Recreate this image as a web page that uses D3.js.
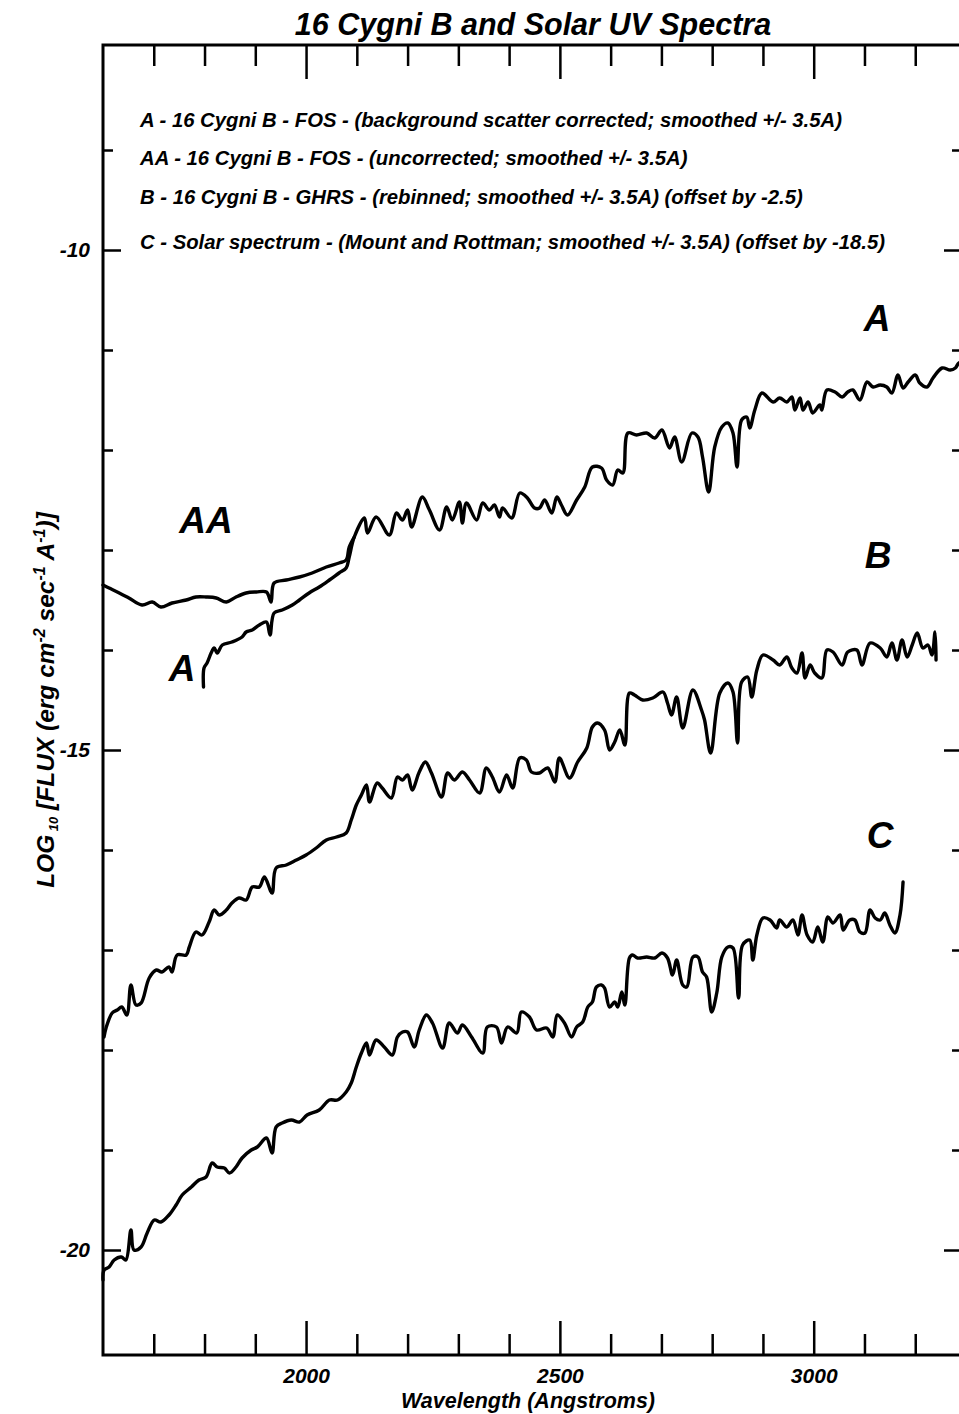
<!DOCTYPE html>
<html>
<head>
<meta charset="utf-8">
<script src="https://cdn.jsdelivr.net/npm/d3@7"></script>
<style>
  body { margin: 0; background: #fff; }
  svg text { font-family: "Liberation Sans", Arial, sans-serif; font-weight: bold; font-style: italic; fill: #000; }
  .spectrum { fill: none; stroke: #000; stroke-width: 3.4; stroke-linejoin: round; stroke-linecap: round; }
  .frame { fill: none; stroke: #000; stroke-width: 3; }
  .axis path { display: none; }
  .axis line { stroke: #000; stroke-width: 2.5; }
</style>
</head>
<body>
<div id="spectra-chart"></div>
<script>
// [wavelength (A), log10 flux]
const seriesAA = [[1600,-13.35],[1612,-13.38],[1632,-13.43],[1651,-13.48],[1677,-13.55],[1697,-13.52],[1714,-13.57],[1736,-13.53],[1764,-13.50],[1783,-13.47],[1803,-13.47],[1823,-13.48],[1843,-13.52],[1862,-13.47],[1882,-13.43],[1902,-13.42],[1922,-13.42],[1931,-13.52],[1937,-13.33],[1961,-13.30],[1987,-13.27],[2012,-13.23],[2040,-13.17],[2065,-13.13],[2079,-13.10],[2085,-12.97],[2095,-12.87]];

const seriesA = [[1798,-14.37],[1799,-14.18],[1805,-14.13],[1813,-14.03],[1819,-13.98],[1825,-14.03],[1835,-13.95],[1854,-13.92],[1874,-13.87],[1882,-13.82],[1894,-13.80],[1908,-13.75],[1922,-13.72],[1929,-13.85],[1937,-13.63],[1953,-13.60],[1973,-13.55],[1987,-13.50],[2006,-13.43],[2026,-13.37],[2046,-13.30],[2065,-13.23],[2079,-13.18],[2085,-13.07],[2095,-12.87],
  [2115,-12.68],[2121,-12.83],[2138,-12.67],[2164,-12.85],[2178,-12.63],[2190,-12.70],[2200,-12.60],[2208,-12.77],[2229,-12.47],[2243,-12.60],[2263,-12.80],[2277,-12.57],[2288,-12.70],[2302,-12.52],[2308,-12.73],[2316,-12.53],[2336,-12.70],[2348,-12.53],[2361,-12.60],[2371,-12.55],[2381,-12.67],[2387,-12.58],[2405,-12.68],[2421,-12.43],[2436,-12.48],[2450,-12.58],[2460,-12.58],[2470,-12.50],[2484,-12.63],[2494,-12.47],[2503,-12.55],[2515,-12.65],[2533,-12.50],[2549,-12.37],[2564,-12.17],[2582,-12.18],[2592,-12.30],[2604,-12.35],[2614,-12.20],[2624,-12.23],[2634,-11.83],[2651,-11.85],[2671,-11.83],[2687,-11.88],[2701,-11.80],[2716,-11.98],[2726,-11.87],[2740,-12.12],[2760,-11.83],[2772,-11.87],[2781,-12.07],[2793,-12.42],[2805,-11.97],[2819,-11.77],[2831,-11.73],[2841,-11.83],[2849,-12.17],[2858,-11.70],[2868,-11.67],[2874,-11.78],[2884,-11.60],[2898,-11.43],[2920,-11.52],[2933,-11.48],[2947,-11.52],[2957,-11.47],[2963,-11.60],[2973,-11.48],[2979,-11.60],[2989,-11.52],[2998,-11.63],[3012,-11.55],[3016,-11.60],[3026,-11.40],[3042,-11.42],[3056,-11.47],[3067,-11.42],[3077,-11.40],[3091,-11.50],[3105,-11.32],[3117,-11.37],[3131,-11.35],[3144,-11.37],[3154,-11.43],[3166,-11.25],[3176,-11.38],[3186,-11.32],[3200,-11.25],[3209,-11.33],[3223,-11.37],[3235,-11.28],[3253,-11.18],[3269,-11.20],[3279,-11.18],[3286,-11.13],[3300,-11.12]];

const seriesB = [[1602,-17.87],[1606,-17.78],[1618,-17.63],[1628,-17.60],[1637,-17.57],[1647,-17.65],[1655,-17.35],[1665,-17.55],[1675,-17.53],[1691,-17.28],[1705,-17.20],[1716,-17.22],[1730,-17.17],[1736,-17.22],[1746,-17.05],[1764,-17.05],[1770,-16.97],[1783,-16.82],[1795,-16.85],[1809,-16.72],[1819,-16.60],[1829,-16.65],[1843,-16.60],[1854,-16.53],[1868,-16.48],[1882,-16.50],[1894,-16.37],[1908,-16.37],[1918,-16.27],[1933,-16.43],[1941,-16.18],[1961,-16.15],[1981,-16.10],[2000,-16.05],[2020,-15.98],[2040,-15.90],[2060,-15.87],[2079,-15.83],[2089,-15.70],[2099,-15.55],[2109,-15.45],[2119,-15.35],[2125,-15.52],[2140,-15.33],[2150,-15.38],[2168,-15.48],[2180,-15.27],[2190,-15.30],[2200,-15.25],[2209,-15.40],[2223,-15.22],[2235,-15.12],[2247,-15.23],[2267,-15.47],[2279,-15.23],[2292,-15.30],[2308,-15.22],[2322,-15.30],[2342,-15.43],[2355,-15.18],[2367,-15.27],[2381,-15.42],[2395,-15.25],[2407,-15.38],[2421,-15.08],[2434,-15.10],[2444,-15.22],[2460,-15.23],[2476,-15.18],[2490,-15.32],[2499,-15.08],[2519,-15.28],[2535,-15.12],[2553,-14.98],[2564,-14.77],[2574,-14.73],[2588,-14.80],[2598,-15.00],[2608,-14.92],[2618,-14.80],[2628,-14.95],[2637,-14.43],[2647,-14.45],[2663,-14.50],[2683,-14.48],[2703,-14.42],[2712,-14.53],[2720,-14.65],[2730,-14.47],[2742,-14.78],[2762,-14.40],[2779,-14.60],[2785,-14.70],[2797,-15.03],[2815,-14.43],[2831,-14.33],[2841,-14.42],[2850,-14.93],[2858,-14.32],[2870,-14.27],[2878,-14.47],[2888,-14.20],[2900,-14.05],[2920,-14.10],[2933,-14.15],[2947,-14.07],[2957,-14.18],[2967,-14.23],[2977,-14.03],[2983,-14.28],[2993,-14.15],[3002,-14.23],[3016,-14.28],[3026,-14.00],[3038,-14.02],[3056,-14.15],[3067,-14.02],[3085,-14.00],[3095,-14.15],[3111,-13.93],[3131,-13.98],[3144,-14.07],[3154,-13.93],[3164,-14.10],[3174,-13.90],[3184,-14.07],[3194,-13.95],[3204,-13.83],[3215,-13.98],[3225,-13.95],[3233,-14.05],[3239,-13.82],[3241,-14.10]];

const seriesC = [[1600,-20.30],[1602,-20.20],[1612,-20.17],[1622,-20.10],[1636,-20.07],[1645,-20.10],[1655,-19.80],[1661,-20.00],[1675,-19.97],[1687,-19.83],[1701,-19.70],[1714,-19.72],[1730,-19.65],[1744,-19.55],[1756,-19.45],[1774,-19.37],[1789,-19.30],[1803,-19.27],[1815,-19.13],[1825,-19.17],[1839,-19.18],[1849,-19.23],[1862,-19.17],[1874,-19.08],[1892,-19.00],[1904,-18.97],[1922,-18.88],[1933,-19.03],[1941,-18.77],[1953,-18.73],[1971,-18.70],[1987,-18.72],[2002,-18.65],[2026,-18.60],[2046,-18.50],[2062,-18.50],[2079,-18.42],[2089,-18.33],[2099,-18.17],[2109,-18.03],[2119,-17.93],[2125,-18.05],[2138,-17.90],[2154,-17.97],[2170,-18.05],[2180,-17.87],[2190,-17.82],[2200,-17.82],[2213,-17.97],[2223,-17.80],[2237,-17.65],[2249,-17.73],[2269,-17.98],[2282,-17.73],[2298,-17.83],[2308,-17.75],[2326,-17.87],[2348,-18.03],[2357,-17.77],[2375,-17.77],[2385,-17.93],[2397,-17.77],[2415,-17.83],[2424,-17.62],[2440,-17.67],[2454,-17.80],[2474,-17.78],[2486,-17.87],[2495,-17.65],[2509,-17.73],[2523,-17.87],[2533,-17.77],[2545,-17.72],[2555,-17.57],[2564,-17.52],[2572,-17.37],[2582,-17.35],[2588,-17.38],[2598,-17.57],[2608,-17.52],[2614,-17.57],[2622,-17.42],[2628,-17.55],[2637,-17.08],[2643,-17.05],[2653,-17.08],[2671,-17.07],[2687,-17.08],[2701,-17.03],[2712,-17.08],[2722,-17.25],[2730,-17.10],[2742,-17.35],[2750,-17.37],[2762,-17.07],[2772,-17.07],[2781,-17.22],[2789,-17.27],[2799,-17.62],[2809,-17.43],[2819,-17.07],[2831,-16.97],[2841,-16.98],[2852,-17.48],[2860,-16.95],[2874,-16.90],[2880,-17.10],[2888,-16.85],[2900,-16.68],[2914,-16.70],[2927,-16.78],[2933,-16.70],[2947,-16.77],[2959,-16.70],[2969,-16.85],[2977,-16.65],[2987,-16.85],[2998,-16.92],[3008,-16.77],[3018,-16.92],[3028,-16.67],[3038,-16.73],[3052,-16.65],[3058,-16.80],[3071,-16.70],[3081,-16.70],[3091,-16.82],[3101,-16.83],[3111,-16.60],[3121,-16.68],[3131,-16.70],[3140,-16.63],[3150,-16.75],[3160,-16.83],[3170,-16.65],[3176,-16.32]];

const legendLines = [
  "A - 16 Cygni B - FOS - (background scatter corrected; smoothed +/- 3.5A)",
  "AA - 16 Cygni B - FOS - (uncorrected; smoothed +/- 3.5A)",
  "B - 16 Cygni B - GHRS - (rebinned; smoothed +/- 3.5A) (offset by -2.5)",
  "C - Solar spectrum - (Mount and Rottman; smoothed +/- 3.5A) (offset by -18.5)"
];

// curve tags, placed in data units
const curveLabels = [
  {text: "A", wl: 3125, flux: -10.68},
  {text: "AA", wl: 1803, flux: -12.70},
  {text: "B", wl: 3127, flux: -13.05},
  {text: "A", wl: 1756, flux: -14.18},
  {text: "C", wl: 3131, flux: -15.85}
];

const xMajorTicks = [2000, 2500, 3000];
const xMinorTicks = [1700, 1800, 1900, 2100, 2200, 2300, 2400, 2600, 2700, 2800, 2900, 3100, 3200];
const yMajorTicks = [-20, -15, -10];
const yMinorTicks = [-19, -18, -17, -16, -14, -13, -12, -11, -9];

/**
 * Constructor for the spectra chart
 */
function SpectraChart(divId) {
    var self = this;
    self.divId = divId;
    self.init();
}

SpectraChart.prototype.init = function () {
    var self = this;
    self.width = 959;
    self.height = 1414;
    self.plot = {left: 103, right: 966, top: 45, bottom: 1355};

    self.svg = d3.select(self.divId).append("svg")
        .attr("width", self.width)
        .attr("height", self.height)
        .style("background", "#fff");

    self.x = d3.scaleLinear().domain([1600, 3300]).range([self.plot.left, self.plot.right]);
    self.y = d3.scaleLinear().domain([-21.05, -7.95]).range([self.plot.bottom, self.plot.top]);
};

SpectraChart.prototype.update = function () {
    var self = this;
    var x = self.x, y = self.y, p = self.plot;

    //title
    self.svg.append("text")
        .attr("x", 533).attr("y", 35)
        .attr("text-anchor", "middle")
        .style("font-size", "30.5px")
        .text("16 Cygni B and Solar UV Spectra");

    //frame
    self.svg.append("rect")
        .attr("class", "frame")
        .attr("x", p.left).attr("y", p.top)
        .attr("width", p.right - p.left).attr("height", p.bottom - p.top);

    //ticks point inward, so the sizes are negative
    var addAxis = function (axis, tr, size, values, fmt) {
        self.svg.append("g")
            .attr("class", "axis")
            .attr("transform", tr)
            .call(axis.tickValues(values).tickSize(size).tickPadding(13).tickFormat(fmt));
    };
    var none = function () { return ""; };
    var plain = function (d) { return String(d); };

    addAxis(d3.axisBottom(x), "translate(0," + p.bottom + ")", -21, xMinorTicks, none);
    addAxis(d3.axisBottom(x), "translate(0," + p.bottom + ")", -34, xMajorTicks, plain);
    addAxis(d3.axisTop(x), "translate(0," + p.top + ")", -21, xMinorTicks, none);
    addAxis(d3.axisTop(x), "translate(0," + p.top + ")", -34, xMajorTicks, none);
    addAxis(d3.axisLeft(y), "translate(" + p.left + ",0)", -10, yMinorTicks, none);
    addAxis(d3.axisLeft(y), "translate(" + p.left + ",0)", -18, yMajorTicks, plain);
    addAxis(d3.axisRight(y), "translate(" + p.right + ",0)", -14, yMinorTicks, none);
    addAxis(d3.axisRight(y), "translate(" + p.right + ",0)", -22, yMajorTicks, none);

    self.svg.selectAll(".axis text")
        .style("font-size", "21px")
        .style("font-family", "\"Liberation Sans\", Arial, sans-serif");

    //spectra, lightly rounded like the smoothed originals
    var line = d3.line()
        .curve(d3.curveCatmullRom.alpha(0.5))
        .x(function (d) { return x(d[0]); })
        .y(function (d) { return y(d[1]); });

    self.svg.selectAll("path.spectrum")
        .data([seriesAA, seriesA, seriesB, seriesC])
        .enter()
        .append("path")
        .attr("class", "spectrum")
        .attr("d", line);

    //legend
    var legendY = [127, 165, 204, 249];
    self.svg.selectAll("text.legend")
        .data(legendLines)
        .enter()
        .append("text")
        .attr("class", "legend")
        .attr("x", 140)
        .attr("y", function (d, i) { return legendY[i]; })
        .style("font-size", "20.3px")
        .text(function (d) { return d; });

    //curve tags
    self.svg.selectAll("text.tag")
        .data(curveLabels)
        .enter()
        .append("text")
        .attr("class", "tag")
        .attr("x", function (d) { return x(d.wl); })
        .attr("y", function (d) { return y(d.flux) + 13; })
        .attr("text-anchor", "middle")
        .style("font-size", "37px")
        .text(function (d) { return d.text; });

    //x axis title
    self.svg.append("text")
        .attr("x", 528).attr("y", 1408)
        .attr("text-anchor", "middle")
        .style("font-size", "21.5px")
        .text("Wavelength (Angstroms)");

    //y axis title with sub/superscripts
    var yLabel = self.svg.append("text")
        .attr("transform", "translate(54,700) rotate(-90)")
        .attr("text-anchor", "middle")
        .style("font-size", "24.5px");
    var parts = [
        ["LOG", 0], [" 10", -1], [" [FLUX (erg cm", 0], ["-2", 1], [" sec", 0],
        ["-1", 1], [" A", 0], ["-1", 1], [")]", 0]
    ];
    parts.forEach(function (part) {
        var t = yLabel.append("tspan").text(part[0]);
        if (part[1] === -1) t.attr("baseline-shift", "-30%").style("font-size", "13px");
        if (part[1] === 1) t.attr("baseline-shift", "55%").style("font-size", "16px");
    });
};

var chart = new SpectraChart("#spectra-chart");
chart.update();
</script>
</body>
</html>
